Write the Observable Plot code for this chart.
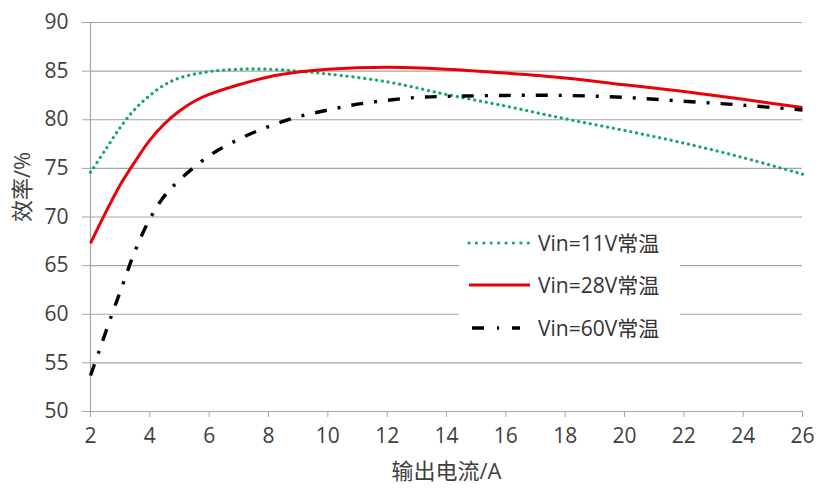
<!DOCTYPE html>
<html>
<head>
<meta charset="utf-8">
<script src="https://cdn.jsdelivr.net/npm/d3@7"></script>
<script src="https://cdn.jsdelivr.net/npm/@observablehq/plot@0.6"></script>
<style>
  html, body { margin: 0; padding: 0; background: #fff; }
  #wrap { position: relative; width: 819px; height: 491px; font-family: "Open Sans", "Noto Sans CJK SC", sans-serif; }
  #legend { position: absolute; left: 459px; top: 225px; width: 221px; height: 120px; background: #fff; }
  #legend .row { position: absolute; left: 0; height: 30px; width: 221px; }
  #legend svg { position: absolute; left: 0; top: 0; }
  #legend .lab { position: absolute; left: 79px; top: 0; line-height: 30px; font-size: 21px; color: #333; font-family: "Open Sans", "Noto Sans CJK SC", sans-serif; white-space: nowrap; }
</style>
</head>
<body>
<div id="wrap"></div>
<script>
// Output current (A)
const xTicks = [2, 4, 6, 8, 10, 12, 14, 16, 18, 20, 22, 24, 26];
const yTicks = [50, 55, 60, 65, 70, 75, 80, 85, 90];

const seriesNames = ["Vin=11V常温", "Vin=28V常温", "Vin=60V常温"];

const x11 = [2, 2.5, 3, 3.5, 4, 4.5, 5, 6, 7, 8, 9, 10, 12, 14, 16, 18, 20, 22, 24, 26];
const y11 = [74.6, 76.9, 79.2, 81.1, 82.5, 83.6, 84.3, 84.95, 85.2, 85.2, 85.0, 84.7, 83.9, 82.6, 81.4, 80.1, 78.9, 77.6, 76.1, 74.4];

const x28 = [2, 2.5, 3, 3.5, 4, 4.5, 5, 5.5, 6, 7, 8, 9, 10, 12, 14, 16, 18, 20, 22, 24, 26];
const y28 = [67.3, 70.4, 73.3, 75.7, 77.9, 79.6, 80.9, 81.9, 82.6, 83.6, 84.4, 84.9, 85.2, 85.4, 85.2, 84.8, 84.3, 83.6, 82.9, 82.1, 81.25];

const x60 = [2, 2.3, 2.7, 3, 3.5, 4, 4.5, 5, 6, 7, 8, 9, 10, 11, 12, 13, 14, 16, 18, 20, 22, 24, 26];
const y60 = [53.7, 56.3, 59.8, 62.3, 66.5, 69.8, 72.2, 73.8, 76.3, 78.0, 79.3, 80.3, 81.0, 81.6, 82.0, 82.3, 82.4, 82.5, 82.5, 82.3, 81.9, 81.5, 81.0];

const colors = ["#1aa760", "#e8000b", "#000000"];
const dashes = ["0.1,5.8", null, "12,11,3,11"];
const widths = [3.2, 3, 3.4];
const caps = ["round", "butt", "butt"];

const toRows = (xs, ys) => xs.map((x, i) => ({x, y: ys[i]}));
const data = [toRows(x11, y11), toRows(x28, y28), toRows(x60, y60)];

const grid = "#a6a6a6";
const font = `"Open Sans", "Noto Sans CJK SC", sans-serif`;

const chart = Plot.plot({
  width: 819,
  height: 491,
  marginLeft: 90,
  marginRight: 17,
  marginTop: 22,
  marginBottom: 80,
  style: {fontFamily: font, fontSize: "21px", color: "#404040", background: "#fff"},
  x: {domain: [2, 26]},
  y: {domain: [50, 90]},
  marks: [
    Plot.ruleY(yTicks, {y: d => d, stroke: grid, strokeWidth: 1.2}),
    Plot.ruleX([2], {x: d => d, stroke: grid, strokeWidth: 1.2}),
    Plot.axisY({ticks: yTicks, tickSize: 8, tickPadding: 14, stroke: grid, label: null, fill: "#404040"}),
    Plot.axisX({ticks: xTicks, tickSize: 6, tickPadding: 11, stroke: grid, label: null, fill: "#404040"}),
    Plot.text(["输出电流/A"], {frameAnchor: "bottom", dy: 67, fontSize: 22, fill: "#404040", fontFamily: font}),
    Plot.text(["效率/%"], {frameAnchor: "left", dx: -68, dy: 5, rotate: -90, fontSize: 22, fill: "#404040", fontFamily: font}),
    ...data.map((rows, i) => Plot.line(rows, {
      x: "x", y: "y", curve: "catmull-rom",
      stroke: colors[i], strokeWidth: widths[i],
      strokeDasharray: dashes[i], strokeLinecap: caps[i]
    }))
  ]
});

const wrap = document.getElementById("wrap");
wrap.appendChild(chart);

// Legend (HTML overlay with white background covering gridlines)
const legend = document.createElement("div");
legend.id = "legend";
const rowTops = [3, 45, 88];
const sampleDash = ["0.1,7.3", null, "12,13,2,13"];
seriesNames.forEach((name, i) => {
  const row = document.createElement("div");
  row.className = "row";
  row.style.top = rowTops[i] + "px";
  row.innerHTML = `<svg width="80" height="30"><line x1="${i === 2 ? 13 : 10}" x2="${i === 2 ? 61 : 71}" y1="15" y2="15" stroke="${colors[i]}" stroke-width="${widths[i]}" ${sampleDash[i] ? `stroke-dasharray="${sampleDash[i]}"` : ""} stroke-linecap="${caps[i]}"/></svg><span class="lab">${name}</span>`;
  legend.appendChild(row);
});
wrap.appendChild(legend);
</script>
</body>
</html>
